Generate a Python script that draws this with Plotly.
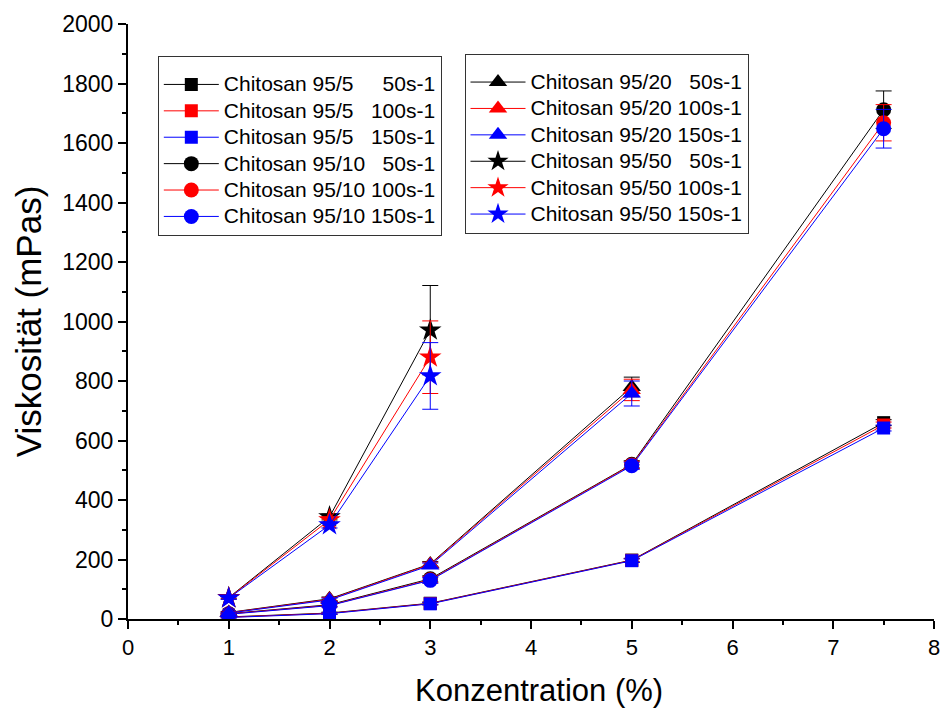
import plotly.graph_objects as go

# Konzentration (%) per Probenreihe
conc_95_5 = [1, 2, 3, 5, 7.5]
conc_95_10 = [1, 2, 3, 5, 7.5]
conc_95_20 = [1, 2, 3, 5]
conc_95_50 = [1, 2, 3]

# Viskosität (mPas) bei 50, 100 und 150 s-1
visc_95_5_50 = [7, 20, 53, 198, 660]
visc_95_5_100 = [6, 19, 52, 197, 652]
visc_95_5_150 = [5, 18, 51, 196, 642]
err_95_5_50 = [2, 3, 4, 6, 10]
err_95_5_100 = [2, 3, 4, 6, 10]
err_95_5_150 = [2, 3, 4, 6, 10]

visc_95_10_50 = [18, 48, 135, 520, 1712]
visc_95_10_100 = [17, 46, 132, 518, 1668]
visc_95_10_150 = [16, 45, 130, 515, 1648]
err_95_10_50 = [3, 5, 10, 12, 63]
err_95_10_100 = [3, 5, 10, 12, 61]
err_95_10_150 = [3, 5, 10, 12, 65]

visc_95_20_50 = [22, 68, 185, 780]
visc_95_20_100 = [21, 66, 183, 770]
visc_95_20_150 = [20, 64, 180, 758]
err_95_20_50 = [3, 6, 8, 33]
err_95_20_100 = [3, 6, 8, 36]
err_95_20_150 = [3, 6, 8, 42]

visc_95_50_50 = [72, 343, 971]
visc_95_50_100 = [71, 333, 880]
visc_95_50_150 = [70, 316, 817]
err_95_50_50 = [4, 10, 150]
err_95_50_100 = [4, 10, 122]
err_95_50_150 = [4, 10, 112]

NB = "\u00a0"
series = [
    ("Chitosan 95/5" + NB * 5 + "50s-1", conc_95_5, visc_95_5_50, err_95_5_50, "black", "square", 13, "legend"),
    ("Chitosan 95/5" + NB * 3 + "100s-1", conc_95_5, visc_95_5_100, err_95_5_100, "red", "square", 13, "legend"),
    ("Chitosan 95/5" + NB * 3 + "150s-1", conc_95_5, visc_95_5_150, err_95_5_150, "blue", "square", 13, "legend"),
    ("Chitosan 95/10" + NB * 3 + "50s-1", conc_95_10, visc_95_10_50, err_95_10_50, "black", "circle", 15, "legend"),
    ("Chitosan 95/10 100s-1", conc_95_10, visc_95_10_100, err_95_10_100, "red", "circle", 15, "legend"),
    ("Chitosan 95/10 150s-1", conc_95_10, visc_95_10_150, err_95_10_150, "blue", "circle", 15, "legend"),
    ("Chitosan 95/20" + NB * 3 + "50s-1", conc_95_20, visc_95_20_50, err_95_20_50, "black", "triangle-up", 16, "legend2"),
    ("Chitosan 95/20 100s-1", conc_95_20, visc_95_20_100, err_95_20_100, "red", "triangle-up", 16, "legend2"),
    ("Chitosan 95/20 150s-1", conc_95_20, visc_95_20_150, err_95_20_150, "blue", "triangle-up", 16, "legend2"),
    ("Chitosan 95/50" + NB * 3 + "50s-1", conc_95_50, visc_95_50_50, err_95_50_50, "black", "star", 17, "legend2"),
    ("Chitosan 95/50 100s-1", conc_95_50, visc_95_50_100, err_95_50_100, "red", "star", 17, "legend2"),
    ("Chitosan 95/50 150s-1", conc_95_50, visc_95_50_150, err_95_50_150, "blue", "star", 17, "legend2"),
]

fig = go.Figure()
for name, x, y, e, col, sym, size, leg in series:
    fig.add_trace(go.Scatter(
        x=x, y=y, mode="lines+markers", legend=leg,
        name='<span style="font-size:21px">' + name + "</span>",
        line=dict(color=col, width=1),
        marker=dict(color=col, symbol=sym, size=size, line=dict(width=0)),
        error_y=dict(type="data", array=e, visible=True, color=col, thickness=1, width=8),
    ))

font_main = "Liberation Sans, Arial, sans-serif"
legend_style = dict(
    bgcolor="white", bordercolor="#333333", borderwidth=1,
    font=dict(family=font_main, size=18, color="black"),
    xanchor="left", yanchor="top", tracegroupgap=0, itemwidth=55,
    title=dict(text=" ", font=dict(size=7)),
)

fig.update_layout(
    width=950, height=713,
    margin=dict(l=128, r=10, t=24, b=94),
    paper_bgcolor="white", plot_bgcolor="white",
    font=dict(family=font_main, color="black"),
    legend=dict(x=0.037, y=0.946, **legend_style),
    legend2=dict(x=0.4175, y=0.95, **legend_style),
    xaxis=dict(
        range=[0, 8], dtick=1, showgrid=False, zeroline=False,
        showline=True, linecolor="black", linewidth=2,
        ticks="outside", ticklen=8, tickwidth=2, tickcolor="black",
        minor=dict(dtick=0.5, ticks="outside", ticklen=4, tickwidth=2, tickcolor="black"),
        tickfont=dict(size=22),
    ),
    yaxis=dict(
        range=[0, 2000], dtick=200, showgrid=False, zeroline=False,
        showline=True, linecolor="black", linewidth=2,
        ticks="outside", ticklen=8, tickwidth=2, tickcolor="black",
        minor=dict(dtick=100, ticks="outside", ticklen=4, tickwidth=2, tickcolor="black"),
        tickfont=dict(size=23),
        title=dict(text="Viskosität (mPas)", font=dict(size=35), standoff=10),
    ),
    annotations=[dict(
        text="Konzentration (%)", xref="paper", yref="paper",
        x=0.5, y=0, xshift=8, yshift=-52, xanchor="center", yanchor="top",
        showarrow=False, font=dict(size=31, family=font_main, color="black"),
    )],
)

fig.write_html("out.html")
